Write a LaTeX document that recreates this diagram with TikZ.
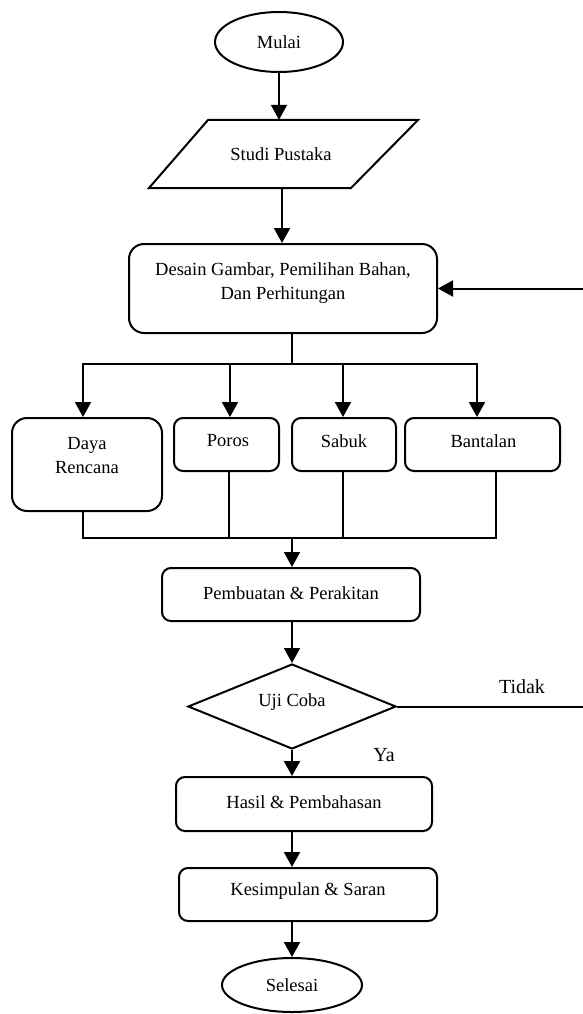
\documentclass[tikz,border=0pt]{standalone}
\usepackage{fontspec}
\setmainfont{Liberation Serif}
\usetikzlibrary{arrows.meta,shapes.geometric}
\tikzset{
  ln/.style={line width=2pt},
  arr/.style={line width=2pt,-{Triangle[width=16pt,length=15pt]}},
  box/.style={draw,line width=2pt,rounded corners=9pt,inner sep=0pt,align=center},
  bigbox/.style={box,rounded corners=15pt},
  oval/.style={draw,ellipse,line width=2pt,inner sep=0pt},
  txt/.style={inner sep=0pt,align=center},
  dec/.style={draw,diamond,line width=2pt,inner sep=0pt,aspect=2.45},
  every node/.style={font=\fontsize{18.5}{24}\selectfont},
  lbl/.style={inner sep=0pt,font=\fontsize{20}{24}\selectfont}
}
\begin{document}
\begin{tikzpicture}[x=1pt,y=-1pt]
\useasboundingbox (0,0) rectangle (582,1014);
% start
\node[oval,minimum width=128pt,minimum height=60pt] (mulai) at (279,42) {Mulai};
% parallelogram
\node[txt,minimum height=68pt,minimum width=100pt] (studi) at (281,154) {Studi Pustaka};
\draw[ln,line join=miter] (208,120) -- (418,120) -- (351,188) -- (149,188) -- cycle;
% design box
\node[bigbox,minimum width=308pt,minimum height=89pt] (desain) at (283,288.5) {};
\node[txt] (desaintxt) at (283,283) {Desain Gambar, Pemilihan Bahan,\\Dan Perhitungan};
% four boxes
\node[bigbox,minimum width=150pt,minimum height=93pt] (daya) at (87,464.5) {};
\node[txt] (dayatxt) at (87,456) {Daya\\Rencana};
\node[box,minimum width=105pt,minimum height=53pt] (poros) at (226.5,444.5) {};
\node[txt] (porostxt) at (228,441) {Poros};
\node[box,minimum width=104pt,minimum height=53pt] (sabuk) at (344,444.5) {};
\node[txt] (sabuktxt) at (344,441) {Sabuk};
\node[box,minimum width=155pt,minimum height=53pt] (bantalan) at (482.5,444.5) {};
\node[txt] (bantalantxt) at (483.5,441) {Bantalan};
% making
\node[box,minimum width=258pt,minimum height=53pt] (pembuatan) at (291,594.5) {};
\node[txt] (pembuatantxt) at (291,593) {Pembuatan \& Perakitan};
% decision
\node[dec,minimum width=208pt,minimum height=85pt] (uji) at (292,706.5) {};
\node[txt] (ujitxt) at (292,702) {Uji Coba};
\node[lbl] (tidak) at (522,687) {Tidak};
\node[lbl] (ya) at (384,755) {Ya};
% results
\node[box,minimum width=256pt,minimum height=54pt] (hasil) at (304,804) {};
\node[txt] (hasiltxt) at (304,802) {Hasil \& Pembahasan};
\node[box,minimum width=258pt,minimum height=53pt] (kes) at (308,894.5) {};
\node[txt] (kestxt) at (308,891) {Kesimpulan \& Saran};
\node[oval,minimum width=140pt,minimum height=54pt] (selesai) at (292,985) {Selesai};
% connectors
\draw[arr] (mulai.south) -- (mulai.south |- studi.north);
\draw[arr] ([xshift=1pt]studi.south) -- ([xshift=1pt]studi.south |- desain.north);
\coordinate (j1) at (292,364);
\draw[ln] (desain.south -| j1) -- (j1);
\draw[arr] (j1) -| ([xshift=-4pt]daya.north);
\draw[arr] (j1) -| ([xshift=3.5pt]poros.north);
\draw[arr] (j1) -| ([xshift=-1pt]sabuk.north);
\draw[arr] (j1) -| ([xshift=-5.5pt]bantalan.north);
\coordinate (j2) at (292,538);
\draw[ln] ([xshift=-4pt]daya.south) |- (j2);
\draw[ln] ([xshift=2.5pt]poros.south) |- (j2);
\draw[ln] ([xshift=-1pt]sabuk.south) |- (j2);
\draw[ln] ([xshift=13.5pt]bantalan.south) |- (j2);
\draw[arr] (j2) -- (pembuatan.north -| j2);
\draw[arr] (pembuatan.south -| uji.north) -- (uji.north);
\coordinate (r1) at (586,706.5);
\coordinate (r2) at (586,288.5);
\draw[arr] (uji.east) -- (r1) -- (r2) -- (desain.east);
\draw[arr] (uji.south) -- (uji.south |- hasil.north);
\draw[arr] (uji.south |- hasil.south) -- (uji.south |- kes.north);
\draw[arr] (uji.south |- kes.south) -- (selesai.north);
\end{tikzpicture}
\end{document}
